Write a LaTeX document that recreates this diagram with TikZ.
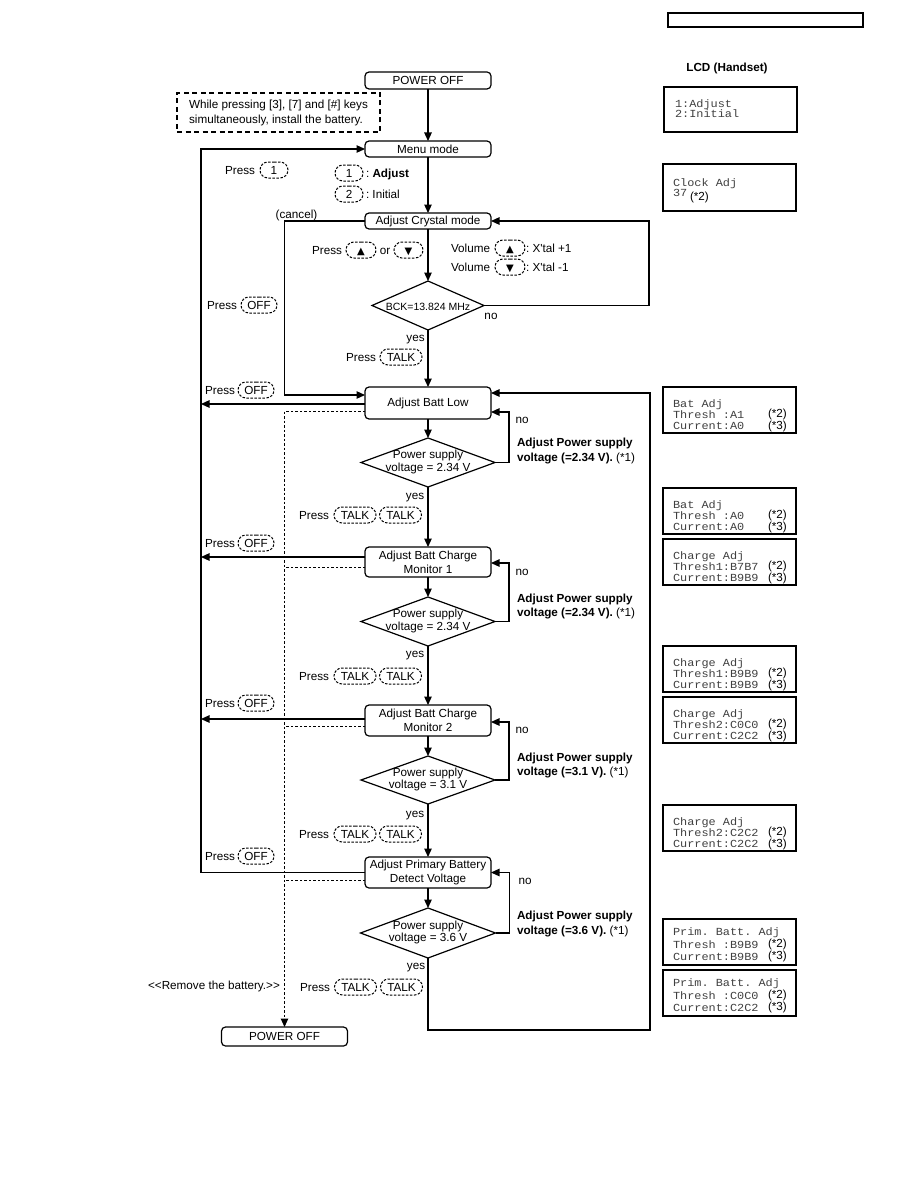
\documentclass[tikz,border=0pt]{standalone}
\usepackage{fontspec}
\setmainfont{Liberation Sans}[Ligatures=TeXOff]
\setmonofont{Liberation Mono}[FakeStretch=1.1]
\newfontfamily\dvs{DejaVu Sans}
\usetikzlibrary{arrows.meta,shapes.geometric,shapes.misc,calc}
\frenchspacing
\newcommand\keyup{{\dvs\fontsize{10}{10}\selectfont ▲}}
\newcommand\keydown{{\dvs\fontsize{10}{10}\selectfont ▼}}
\newcommand\lcdthree[5]{%
  \node[lcd, minimum height=46pt] (#1) at (729.5,#2+23) {};
  \node[mono] (#1a) at (673,#2+17.5) {#3};
  \node[mono] (#1b) at (673,#2+28) {#4};
  \node[mono] (#1c) at (673,#2+39) {#5};
  \node[lbl, anchor=west] (#1s) at (768,#2+26) {(*2)};
  \node[lbl, anchor=west] (#1t) at (768,#2+38) {(*3)};
}
\newcommand\lcdprim[5]{%
  \node[lcd, minimum height=46pt] (#1) at (729.5,#2+23) {};
  \node[mono] (#1a) at (673,#2+13.5) {#3};
  \node[mono] (#1b) at (673,#2+26) {#4};
  \node[mono] (#1c) at (673,#2+38) {#5};
  \node[lbl, anchor=west] (#1s) at (768,#2+24) {(*2)};
  \node[lbl, anchor=west] (#1t) at (768,#2+36) {(*3)};
}
\begin{document}
\begin{tikzpicture}[x=1pt,y=-1pt,
  every node/.style={font=\fontsize{11.7}{13}\selectfont, inner sep=0pt, outer sep=0pt},
  lbl/.style={text height=8.4pt, text depth=0pt},
  stepbox/.style={draw, rounded corners=4pt, line width=1.2pt, minimum width=126pt, align=center, font=\fontsize{11.7}{14}\selectfont},
  dia/.style={draw, diamond, line width=1.2pt, minimum width=134pt, minimum height=49pt},
  dtext/.style={align=center, font=\fontsize{11.7}{12.5}\selectfont},
  arr/.style={line width=1.2pt, -{Triangle[length=8.5pt,width=7.5pt]}},
  dl/.style={line width=1pt, dash pattern=on 2.5pt off 2pt},
  key/.style={lbl, draw, rounded rectangle, line width=1pt, dash pattern=on 2.5pt off 1.5pt, minimum height=16pt},
  lcd/.style={draw, line width=1.2pt, minimum width=133pt},
  mono/.style={font=\fontsize{10.8}{12}\selectfont\ttfamily, anchor=west, text=black!75, text height=7.5pt, text depth=1pt},
  bold/.style={lbl, anchor=west, font=\fontsize{11.7}{13}\selectfont\bfseries},
  lw/.style={lbl, anchor=west},
  le/.style={lbl, anchor=east}
]
\fill[white] (0,0) rectangle (918,1188);
\useasboundingbox (0,0) rectangle (918,1188);

% header frame
\node[draw, line width=1.2pt, minimum width=195pt, minimum height=14pt] (hdr) at (765.5,20) {};

% flow nodes
\node[stepbox, minimum height=17pt] (pwr) at (428,80.5) {POWER OFF};
\node[draw, line width=1.2pt, dash pattern=on 5pt off 3.5pt, minimum width=203pt, minimum height=39pt, align=left, font=\fontsize{11.7}{15}\selectfont] (note) at (278.5,112.5) {While pressing [3], [7] and [\#] keys\\simultaneously, install the battery.};
\node[stepbox, minimum height=16pt] (menu) at (428,149) {Menu mode};
\node[stepbox, minimum height=16pt] (crys) at (428,221) {Adjust Crystal mode};
\node[dia, minimum width=112pt] (bck) at (428,305.5) {};
\node[lbl, font=\fontsize{10.5}{12}\selectfont] (bckt) at (428,306.5) {BCK=13.824 MHz};
\node[stepbox, minimum height=32pt] (low) at (428,403) {Adjust Batt Low};
\node[dia] (d1) at (428,462.5) {};
\node[dtext] (d1t) at (428,462) {Power supply\\voltage = 2.34 V};
\node[stepbox, minimum height=30pt] (m1) at (428,562) {Adjust Batt Charge\\Monitor 1};
\node[dia] (d2) at (428,621.5) {};
\node[dtext] (d2t) at (428,621) {Power supply\\voltage = 2.34 V};
\node[stepbox, minimum height=31pt] (m2) at (428,720.5) {Adjust Batt Charge\\Monitor 2};
\node[dia, minimum height=48pt] (d3) at (428,780) {};
\node[dtext] (d3t) at (428,779.5) {Power supply\\voltage = 3.1 V};
\node[stepbox, minimum height=31pt] (pr) at (428,872.5) {Adjust Primary Battery\\Detect Voltage};
\node[dia, minimum width=135pt, minimum height=50pt] (d4) at (428,933) {};
\node[dtext] (d4t) at (428,932.5) {Power supply\\voltage = 3.6 V};
\node[stepbox, minimum height=19pt] (off2) at (284.5,1036.5) {POWER OFF};

% helper coordinates
\coordinate (c1) at (649,305.5);
\coordinate (c2) at (284.5,395);
\coordinate (bt) at (201,149);
\coordinate (dv) at (284.5,411);
\coordinate (br) at (650,1030);

% main flow
\draw[arr] (pwr) -- (menu);
\draw[arr] (menu) -- (crys);
\draw[arr] (crys) -- (bck);
\draw[arr] (bck) -- (low);
\draw[arr] (low) -- (d1);
\draw[arr] (d1) -- (m1);
\draw[arr] (m1) -- (d2);
\draw[arr] (d2) -- (m2);
\draw[arr] (m2) -- (d3);
\draw[arr] (d3) -- (pr);
\draw[arr] (pr) -- (d4);

% crystal loop and cancel
\draw[arr] (bck.east) -- (c1) |- (crys.east);
\draw[arr] (crys.west) -| (c2) -- (c2 -| low.west);

% left bus (OFF)
\draw[arr] (pr.west) -| (bt) -- (menu.west);
\coordinate (lo) at ($(low.west)+(0,1)$);
\draw[arr] (lo) -- (lo -| bt);
\coordinate (m1o) at ($(m1.west)+(0,-5)$);
\draw[arr] (m1o) -- (m1o -| bt);
\coordinate (m2o) at ($(m2.west)+(0,-1.5)$);
\draw[arr] (m2o) -- (m2o -| bt);

% dotted removal path
\draw[dl, -{Triangle[length=8.5pt,width=7.5pt]}] ($(low.west)+(0,8)$) -| (off2.north);
\coordinate (m1d) at ($(m1.west)+(0,5)$);
\draw[dl] (m1d) -- (m1d -| dv);
\coordinate (m2d) at ($(m2.west)+(0,5.5)$);
\draw[dl] (m2d) -- (m2d -| dv);
\coordinate (prd) at ($(pr.west)+(0,7.5)$);
\draw[dl] (prd) -- (prd -| dv);

% no loops
\draw[arr] (d1.east) -- ++(14,0) |- ($(low.east)+(0,9)$);
\draw[arr] (d2.east) -- ++(14,0) |- ($(m1.east)+(0,1)$);
\draw[arr] (d3.east) -- ++(14,0) |- ($(m2.east)+(0,1.5)$);
\draw[arr] (d4.east) -- ++(14,0) |- (pr.east);

% return loop
\draw[arr] (d4.south) |- (br) |- ($(low.east)+(0,-10)$);

% labels top
\node[le] (p1) at (255,170) {Press};
\node[key, minimum width=28pt] (k1) at (274,170) {1};
\node[key, minimum width=28pt] (ka) at (349,173) {1};
\node[lw] (la) at (366,173) {: \textbf{Adjust}};
\node[key, minimum width=28pt] (kb) at (349,194) {2};
\node[lw] (lb) at (366,194) {: Initial};
\node[lbl] (cancel) at (296.5,214) {(cancel)};

\node[le] (p2) at (342,250) {Press};
\node[key, minimum width=30pt] (ku) at (361,250) {\keyup};
\node[lbl] (or) at (385,250) {or};
\node[key, minimum width=29pt] (kd) at (408.5,250) {\keydown};
\node[lw] (v1) at (451,248) {Volume};
\node[key, minimum width=30pt] (vu) at (510,248) {\keyup};
\node[lw] (x1) at (526,248) {: X'tal +1};
\node[lw] (v2) at (451,267) {Volume};
\node[key, minimum width=30pt] (vd) at (510,267) {\keydown};
\node[lw] (x2) at (526,267) {: X'tal -1};

\node[le] (p3) at (237,305) {Press};
\node[key, minimum width=36pt] (o1) at (259,305) {OFF};
\node[lbl] (no0) at (491,315) {no};
\node[lbl] (yes0) at (415.5,337) {yes};
\node[le] (p4) at (376,357) {Press};
\node[key, minimum width=42pt] (t0) at (401,357) {TALK};

% OFF labels
\node[le] (p5) at (235,390) {Press};
\node[key, minimum width=36pt] (o2) at (256,390) {OFF};
\node[le] (p6) at (235,543) {Press};
\node[key, minimum width=36pt] (o3) at (256,543) {OFF};
\node[le] (p7) at (235,703) {Press};
\node[key, minimum width=36pt] (o4) at (256,703) {OFF};
\node[le] (p8) at (235,856) {Press};
\node[key, minimum width=36pt] (o5) at (256,856) {OFF};

% no labels and adjust texts
\node[lbl] (no1) at (522,419) {no};
\node[bold] (a1) at (517,442) {Adjust Power supply};
\node[lw] (b1t) at (517,457) {\textbf{voltage (=2.34 V).} (*1)};
\node[lbl] (no2) at (522,571) {no};
\node[bold] (a2) at (517,598) {Adjust Power supply};
\node[lw] (b2t) at (517,612) {\textbf{voltage (=2.34 V).} (*1)};
\node[lbl] (no3) at (522,729) {no};
\node[bold] (a3) at (517,757) {Adjust Power supply};
\node[lw] (b3t) at (517,771) {\textbf{voltage (=3.1 V).} (*1)};
\node[lbl] (no4) at (525,880) {no};
\node[bold] (a4) at (517,915) {Adjust Power supply};
\node[lw] (b4t) at (517,930) {\textbf{voltage (=3.6 V).} (*1)};

% yes / press talk talk
\node[lbl] (yes1) at (415,495) {yes};
\node[le] (q1) at (329,515) {Press};
\node[key, minimum width=42pt] (t1a) at (355,515) {TALK};
\node[key, minimum width=42pt] (t1b) at (400.5,515) {TALK};
\node[lbl] (yes2) at (415,653) {yes};
\node[le] (q2) at (329,676) {Press};
\node[key, minimum width=42pt] (t2a) at (355,676) {TALK};
\node[key, minimum width=42pt] (t2b) at (400.5,676) {TALK};
\node[lbl] (yes3) at (415,813) {yes};
\node[le] (q3) at (329,834) {Press};
\node[key, minimum width=42pt] (t3a) at (355,834) {TALK};
\node[key, minimum width=42pt] (t3b) at (400.5,834) {TALK};
\node[lbl] (yes4) at (416,965) {yes};
\node[le] (q4) at (330,987) {Press};
\node[key, minimum width=42pt] (t4a) at (355.5,987) {TALK};
\node[key, minimum width=42pt] (t4b) at (401.5,987) {TALK};
\node[lbl] (rem) at (214,985) {<<Remove the battery.>>};

% LCD column
\node[lbl, font=\fontsize{11.7}{13}\selectfont\bfseries] (lcdh) at (727,67) {LCD (Handset)};
\node[lcd, minimum height=45pt] (l1) at (730.5,109.5) {};
\node[mono] (l1a) at (675,104) {1:Adjust};
\node[mono] (l1b) at (675,114) {2:Initial};
\node[lcd, minimum height=47pt] (l2) at (729.5,187.5) {};
\node[mono] (l2a) at (673,183) {Clock Adj};
\node[mono] (l2b) at (673,193) {37};
\node[lw] (l2s) at (690,196) {(*2)};
\lcdthree{l3}{387}{Bat Adj}{Thresh :A1}{Current:A0}
\lcdthree{l4}{488}{Bat Adj}{Thresh :A0}{Current:A0}
\lcdthree{l5}{539}{Charge Adj}{Thresh1:B7B7}{Current:B9B9}
\lcdthree{l6}{646}{Charge Adj}{Thresh1:B9B9}{Current:B9B9}
\lcdthree{l7}{697}{Charge Adj}{Thresh2:C0C0}{Current:C2C2}
\lcdthree{l8}{805}{Charge Adj}{Thresh2:C2C2}{Current:C2C2}
\lcdprim{l9}{919}{Prim. Batt. Adj}{Thresh :B9B9}{Current:B9B9}
\lcdprim{l10}{970}{Prim. Batt. Adj}{Thresh :C0C0}{Current:C2C2}
\end{tikzpicture}
\end{document}
